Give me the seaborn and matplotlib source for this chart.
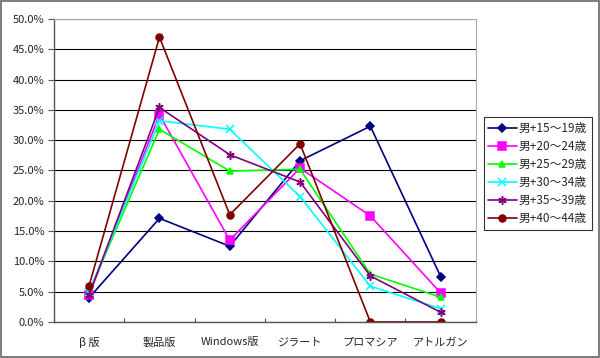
import pandas as pd
import seaborn as sns
import matplotlib.pyplot as plt
import matplotlib.ticker as mticker
from matplotlib.patches import Rectangle

# categories and series (percent)
categories = ['β 版', '製品版', 'Windows版', 'ジラート', 'プロマシア', 'アトルガン']
groups = ['男+15～19歳', '男+20～24歳', '男+25～29歳', '男+30～34歳', '男+35～39歳', '男+40～44歳']
m15_19 = [4.0, 17.1, 12.5, 26.6, 32.3, 7.5]
m20_24 = [4.5, 34.2, 13.5, 25.4, 17.5, 4.8]
m25_29 = [5.0, 31.8, 24.9, 25.2, 7.9, 4.1]
m30_34 = [5.0, 33.2, 31.8, 20.7, 5.9, 2.2]
m35_39 = [4.5, 35.4, 27.6, 23.1, 7.6, 1.6]
m40_44 = [6.0, 47.0, 17.7, 29.4, 0.0, 0.0]

colors = ['#000080', '#FF00FF', '#00FF00', '#00FFFF', '#800080', '#800000']
marks = ['D', 's', '^', 'x', (6, 2, 0), 'o']
msizes = [4.5, 5.5, 4.5, 5.5, 6, 5]

sns.set_style('white')
plt.rcParams['font.family'] = ['Noto Sans CJK JP', 'DejaVu Sans']

fig = plt.figure(figsize=(6, 3.58), dpi=100)
ax = fig.add_axes([0.09, 0.1006, 0.703, 0.8464])

for g, vals, c, m, ms in zip(groups, [m15_19, m20_24, m25_29, m30_34, m35_39, m40_44],
                             colors, marks, msizes):
    d = pd.DataFrame({'pos': range(len(categories)), 'value': vals})
    sns.lineplot(data=d, x='pos', y='value', color=c, marker=m, markersize=ms,
                 markerfacecolor=c, markeredgecolor=c, markeredgewidth=1.1,
                 linewidth=1.2, label=g, ax=ax)

ax.set_xlim(-0.5, 5.5)
ax.set_ylim(0, 50)
ax.set_yticks([i * 5 for i in range(11)])
ax.yaxis.set_major_formatter(mticker.FuncFormatter(lambda v, p: f'{v:.1f}%'))
ax.set_xticks(range(6))
ax.set_xticklabels(categories)
ax.set_xticks([i + 0.5 for i in range(-1, 6)], minor=True)
ax.tick_params(axis='x', which='major', length=0, labelsize=8, pad=11)
ax.tick_params(axis='x', which='minor', length=3, direction='in', color='#555555', width=0.8, bottom=True)
ax.tick_params(axis='y', length=4, direction='out', color='#555555', width=0.8, labelsize=8, left=True, pad=3)
ax.grid(axis='y', color='black', linewidth=0.8)
ax.set_axisbelow(True)
ax.set_xlabel('')
ax.set_ylabel('')
for s in ['top', 'right']:
    ax.spines[s].set_color('#aaaaaa')
    ax.spines[s].set_linewidth(0.8)
for s in ['left', 'bottom']:
    ax.spines[s].set_color('#555555')
    ax.spines[s].set_linewidth(1.0)

h, l = ax.get_legend_handles_labels()
ax.legend_.remove()
leg = fig.legend(h, l, loc='upper left', bbox_to_anchor=(0.806, 0.672),
                 frameon=True, fontsize=8.5, handlelength=2.4, borderpad=0.4,
                 labelspacing=0.42, handletextpad=0.2, fancybox=False, borderaxespad=0)
leg.get_frame().set_edgecolor('black')
leg.get_frame().set_linewidth(0.8)

fig.patches.append(Rectangle((0.001, 0.002), 0.997, 0.995, transform=fig.transFigure,
                             fill=False, edgecolor='#666666', linewidth=1.2))

fig.savefig('out.png', dpi=100)
